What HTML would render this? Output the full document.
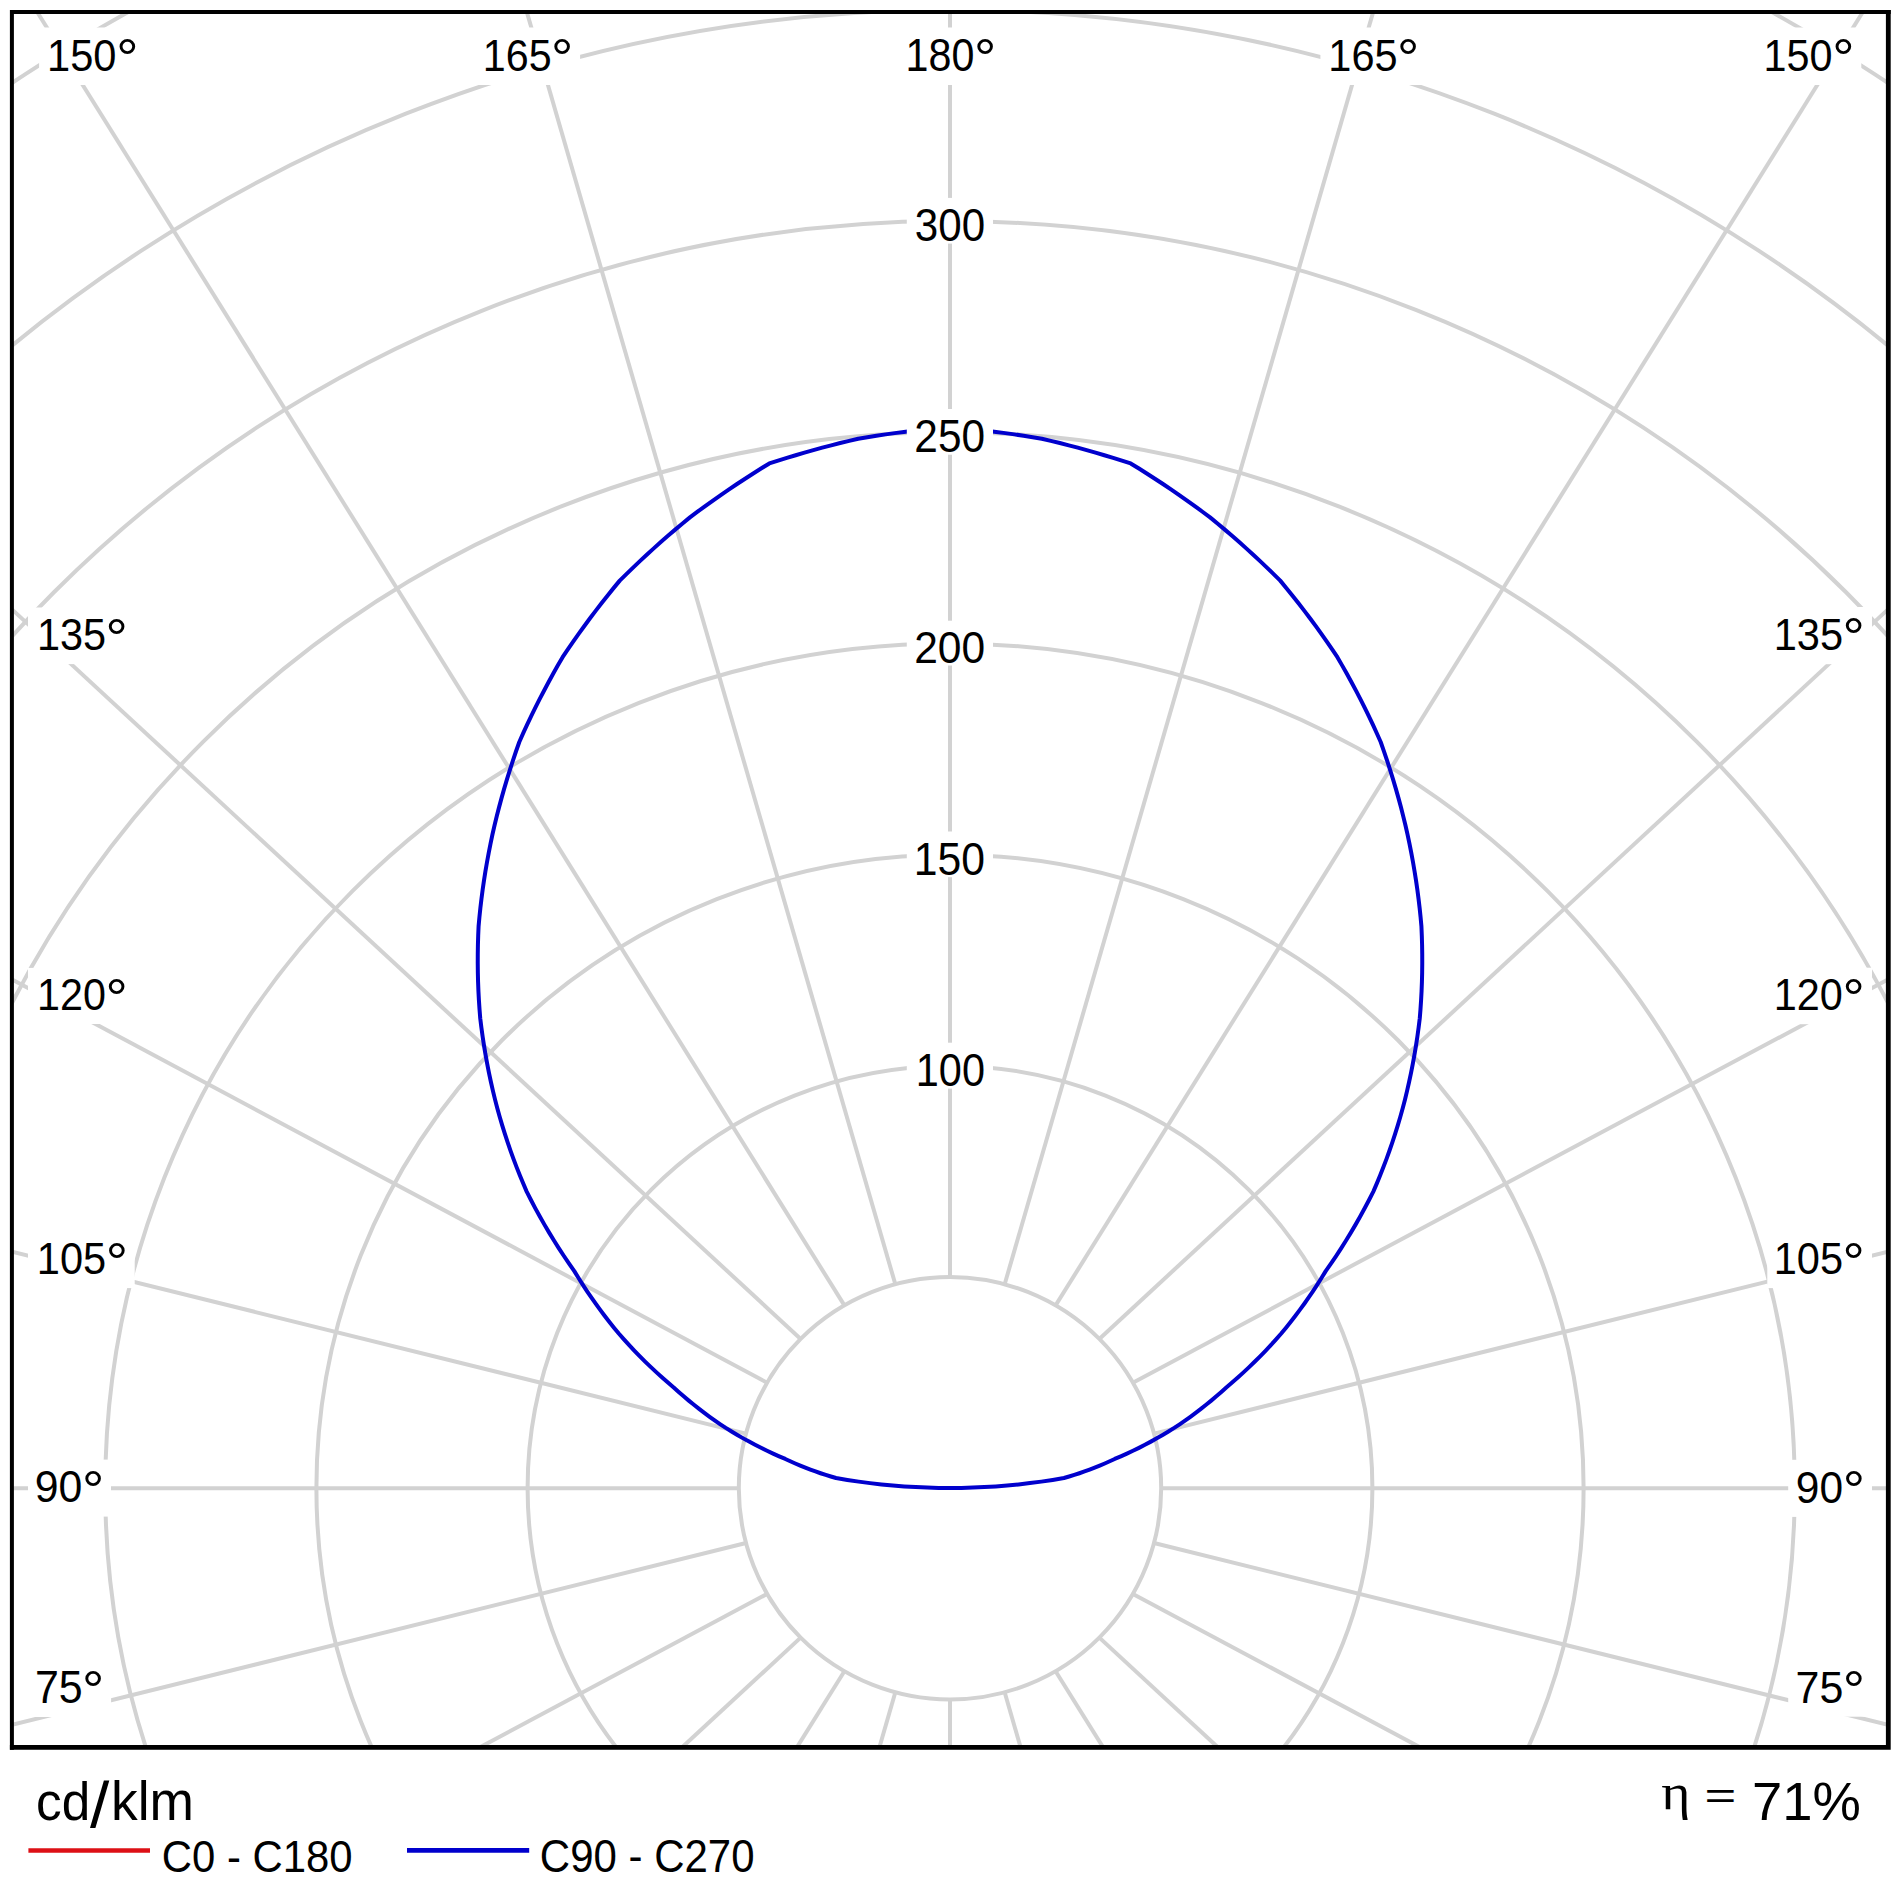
<!DOCTYPE html>
<html><head><meta charset="utf-8"><title>Polar luminous intensity diagram</title>
<style>html,body{margin:0;padding:0;background:#fff;width:1900px;height:1900px;overflow:hidden}svg{display:block}text{font-family:"Liberation Sans",sans-serif}</style>
</head><body><svg width="1900" height="1900" viewBox="0 0 1900 1900"><rect x="0" y="0" width="1900" height="1900" fill="#fff"/><defs><clipPath id="fc"><rect x="12" y="12" width="1876" height="1735"/></clipPath></defs><g clip-path="url(#fc)" stroke="#d2d2d2" stroke-width="4.0" fill="none"><circle cx="950.0" cy="1488.3" r="211.20"/><circle cx="950.0" cy="1488.3" r="422.40"/><circle cx="950.0" cy="1488.3" r="633.60"/><circle cx="950.0" cy="1488.3" r="844.80"/><circle cx="950.0" cy="1488.3" r="1056.00"/><circle cx="950.0" cy="1488.3" r="1267.20"/><circle cx="950.0" cy="1488.3" r="1478.40"/><circle cx="950.0" cy="1488.3" r="1689.60"/><circle cx="950.0" cy="1488.3" r="1900.80"/><line x1="1161.20" y1="1488.30" x2="1888.00" y2="1488.30"/><line x1="1154.00" y1="1433.64" x2="1888.00" y2="1251.70"/><line x1="1132.90" y1="1382.70" x2="1888.00" y2="979.41"/><line x1="1099.34" y1="1338.96" x2="1888.00" y2="609.39"/><line x1="1055.60" y1="1305.40" x2="1862.83" y2="12.00"/><line x1="1004.66" y1="1284.30" x2="1373.19" y2="12.00"/><line x1="950.00" y1="1277.10" x2="950.00" y2="12.00"/><line x1="895.34" y1="1284.30" x2="526.81" y2="12.00"/><line x1="844.40" y1="1305.40" x2="37.17" y2="12.00"/><line x1="800.66" y1="1338.96" x2="12.00" y2="609.39"/><line x1="767.10" y1="1382.70" x2="12.00" y2="979.41"/><line x1="746.00" y1="1433.64" x2="12.00" y2="1251.70"/><line x1="738.80" y1="1488.30" x2="12.00" y2="1488.30"/><line x1="746.00" y1="1542.96" x2="12.00" y2="1724.90"/><line x1="767.10" y1="1593.90" x2="480.44" y2="1747.00"/><line x1="800.66" y1="1637.64" x2="682.44" y2="1747.00"/><line x1="844.40" y1="1671.20" x2="797.09" y2="1747.00"/><line x1="895.34" y1="1692.30" x2="879.49" y2="1747.00"/><line x1="950.00" y1="1699.50" x2="950.00" y2="1747.00"/><line x1="1004.66" y1="1692.30" x2="1020.51" y2="1747.00"/><line x1="1055.60" y1="1671.20" x2="1102.91" y2="1747.00"/><line x1="1099.34" y1="1637.64" x2="1217.56" y2="1747.00"/><line x1="1132.90" y1="1593.90" x2="1419.56" y2="1747.00"/><line x1="1154.00" y1="1542.96" x2="1888.00" y2="1724.90"/></g><path d="M950.00,427.13 L940.75,427.93 L931.51,428.80 L922.29,429.76 L913.08,430.80 L903.89,431.92 L894.72,433.12 L885.56,434.39 L876.42,435.75 L867.30,437.19 L858.20,438.70 L849.17,440.83 L840.17,443.04 L831.20,445.32 L822.26,447.68 L813.36,450.12 L804.49,452.63 L795.65,455.22 L786.85,457.88 L778.08,460.62 L769.34,463.43 L761.05,468.54 L752.84,473.72 L744.71,478.96 L736.65,484.27 L728.67,489.64 L720.76,495.07 L712.94,500.56 L705.19,506.12 L697.52,511.73 L689.93,517.41 L682.52,523.49 L675.19,529.64 L667.96,535.83 L660.80,542.08 L653.74,548.38 L646.76,554.74 L639.88,561.14 L633.08,567.59 L626.37,574.09 L619.75,580.64 L613.55,588.14 L607.47,595.67 L601.49,603.25 L595.61,610.86 L589.84,618.51 L584.18,626.19 L578.63,633.90 L573.18,641.64 L567.83,649.41 L562.60,657.21 L557.74,665.62 L553.00,674.04 L548.38,682.48 L543.88,690.94 L539.49,699.42 L535.22,707.91 L531.06,716.41 L527.02,724.93 L523.10,733.46 L519.30,742.00 L516.04,751.28 L512.90,760.55 L509.90,769.82 L507.02,779.09 L504.27,788.35 L501.65,797.61 L499.16,806.86 L496.80,816.10 L494.56,825.32 L492.44,834.54 L490.49,843.80 L488.67,853.04 L486.98,862.26 L485.41,871.46 L483.96,880.64 L482.64,889.81 L481.44,898.94 L480.37,908.05 L479.42,917.14 L478.59,926.20 L478.19,935.58 L477.91,944.93 L477.77,954.24 L477.75,963.51 L477.85,972.74 L478.08,981.93 L478.43,991.07 L478.91,1000.17 L479.51,1009.22 L480.23,1018.23 L481.38,1027.48 L482.65,1036.68 L484.05,1045.83 L485.57,1054.91 L487.21,1063.93 L488.97,1072.89 L490.86,1081.79 L492.87,1090.62 L494.99,1099.39 L497.23,1108.08 L499.67,1116.77 L502.22,1125.39 L504.88,1133.94 L507.66,1142.41 L510.56,1150.80 L513.56,1159.12 L516.68,1167.36 L519.91,1175.52 L523.25,1183.60 L526.69,1191.60 L530.96,1200.00 L535.34,1208.31 L539.83,1216.51 L544.43,1224.62 L549.15,1232.63 L553.97,1240.53 L558.90,1248.33 L563.93,1256.03 L569.07,1263.61 L574.31,1271.10 L578.38,1277.75 L582.54,1284.31 L586.78,1290.79 L591.11,1297.17 L595.52,1303.47 L600.01,1309.67 L604.58,1315.78 L609.23,1321.80 L613.97,1327.72 L618.77,1333.55 L623.94,1339.41 L629.18,1345.16 L634.50,1350.82 L639.89,1356.37 L645.36,1361.81 L650.89,1367.15 L656.50,1372.39 L662.17,1377.51 L667.91,1382.53 L673.71,1387.44 L678.68,1391.92 L683.70,1396.31 L688.78,1400.60 L693.92,1404.79 L699.11,1408.89 L704.34,1412.90 L709.63,1416.80 L714.97,1420.61 L720.36,1424.31 L725.79,1427.92 L731.55,1431.51 L737.37,1434.98 L743.22,1438.36 L749.12,1441.62 L755.06,1444.78 L761.03,1447.83 L767.05,1450.78 L773.10,1453.61 L779.19,1456.34 L785.31,1458.96 L790.27,1461.27 L795.26,1463.49 L800.28,1465.62 L805.32,1467.67 L810.39,1469.62 L815.48,1471.48 L820.59,1473.26 L825.72,1474.94 L830.87,1476.53 L836.04,1478.03 L847.36,1479.92 L858.70,1481.62 L870.07,1483.11 L881.45,1484.41 L892.85,1485.50 L904.27,1486.40 L915.69,1487.10 L927.12,1487.60 L938.56,1487.90 L950.00,1488.00 L961.44,1487.90 L972.88,1487.60 L984.31,1487.10 L995.73,1486.40 L1007.15,1485.50 L1018.55,1484.41 L1029.93,1483.11 L1041.30,1481.62 L1052.64,1479.92 L1063.96,1478.03 L1069.13,1476.53 L1074.28,1474.94 L1079.41,1473.26 L1084.52,1471.48 L1089.61,1469.62 L1094.68,1467.67 L1099.72,1465.62 L1104.74,1463.49 L1109.73,1461.27 L1114.69,1458.96 L1120.81,1456.34 L1126.90,1453.61 L1132.95,1450.78 L1138.97,1447.83 L1144.94,1444.78 L1150.88,1441.62 L1156.78,1438.36 L1162.63,1434.98 L1168.45,1431.51 L1174.21,1427.92 L1179.64,1424.31 L1185.03,1420.61 L1190.37,1416.80 L1195.66,1412.90 L1200.89,1408.89 L1206.08,1404.79 L1211.22,1400.60 L1216.30,1396.31 L1221.32,1391.92 L1226.29,1387.44 L1232.09,1382.53 L1237.83,1377.51 L1243.50,1372.39 L1249.11,1367.15 L1254.64,1361.81 L1260.11,1356.37 L1265.50,1350.82 L1270.82,1345.16 L1276.06,1339.41 L1281.23,1333.55 L1286.03,1327.72 L1290.77,1321.80 L1295.42,1315.78 L1299.99,1309.67 L1304.48,1303.47 L1308.89,1297.17 L1313.22,1290.79 L1317.46,1284.31 L1321.62,1277.75 L1325.69,1271.10 L1330.93,1263.61 L1336.07,1256.03 L1341.10,1248.33 L1346.03,1240.53 L1350.85,1232.63 L1355.57,1224.62 L1360.17,1216.51 L1364.66,1208.31 L1369.04,1200.00 L1373.31,1191.60 L1376.75,1183.60 L1380.09,1175.52 L1383.32,1167.36 L1386.44,1159.12 L1389.44,1150.80 L1392.34,1142.41 L1395.12,1133.94 L1397.78,1125.39 L1400.33,1116.77 L1402.77,1108.08 L1405.01,1099.39 L1407.13,1090.62 L1409.14,1081.79 L1411.03,1072.89 L1412.79,1063.93 L1414.43,1054.91 L1415.95,1045.83 L1417.35,1036.68 L1418.62,1027.48 L1419.77,1018.23 L1420.49,1009.22 L1421.09,1000.17 L1421.57,991.07 L1421.92,981.93 L1422.15,972.74 L1422.25,963.51 L1422.23,954.24 L1422.09,944.93 L1421.81,935.58 L1421.41,926.20 L1420.58,917.14 L1419.63,908.05 L1418.56,898.94 L1417.36,889.81 L1416.04,880.64 L1414.59,871.46 L1413.02,862.26 L1411.33,853.04 L1409.51,843.80 L1407.56,834.54 L1405.44,825.32 L1403.20,816.10 L1400.84,806.86 L1398.35,797.61 L1395.73,788.35 L1392.98,779.09 L1390.10,769.82 L1387.10,760.55 L1383.96,751.28 L1380.70,742.00 L1376.90,733.46 L1372.98,724.93 L1368.94,716.41 L1364.78,707.91 L1360.51,699.42 L1356.12,690.94 L1351.62,682.48 L1347.00,674.04 L1342.26,665.62 L1337.40,657.21 L1332.17,649.41 L1326.82,641.64 L1321.37,633.90 L1315.82,626.19 L1310.16,618.51 L1304.39,610.86 L1298.51,603.25 L1292.53,595.67 L1286.45,588.14 L1280.25,580.64 L1273.63,574.09 L1266.92,567.59 L1260.12,561.14 L1253.24,554.74 L1246.26,548.38 L1239.20,542.08 L1232.04,535.83 L1224.81,529.64 L1217.48,523.49 L1210.07,517.41 L1202.48,511.73 L1194.81,506.12 L1187.06,500.56 L1179.24,495.07 L1171.33,489.64 L1163.35,484.27 L1155.29,478.96 L1147.16,473.72 L1138.95,468.54 L1130.66,463.43 L1121.92,460.62 L1113.15,457.88 L1104.35,455.22 L1095.51,452.63 L1086.64,450.12 L1077.74,447.68 L1068.80,445.32 L1059.83,443.04 L1050.83,440.83 L1041.80,438.70 L1032.70,437.19 L1023.58,435.75 L1014.44,434.39 L1005.28,433.12 L996.11,431.92 L986.92,430.80 L977.71,429.76 L968.49,428.80 L959.25,427.93 L950.00,427.13" fill="none" stroke="#0000cd" stroke-width="4" stroke-linejoin="round"/><g font-family="Liberation Sans, sans-serif"><rect x="906.8" y="1042.7" width="86.2" height="45.9" fill="#fff"/><text transform="translate(915.84,1086.08) scale(0.9416,1.0368)" font-size="44" fill="#000">100</text><rect x="906.8" y="831.5" width="86.2" height="45.7" fill="#fff"/><text transform="translate(913.84,874.68) scale(0.9708,1.0304)" font-size="44" fill="#000">150</text><rect x="906.8" y="620.7" width="86.2" height="44.8" fill="#fff"/><text transform="translate(914.22,663.00) scale(0.9669,1.0016)" font-size="44" fill="#000">200</text><rect x="906.8" y="409.0" width="86.2" height="45.7" fill="#fff"/><text transform="translate(914.33,452.18) scale(0.9640,1.0304)" font-size="44" fill="#000">250</text><rect x="906.8" y="197.9" width="86.2" height="45.7" fill="#fff"/><text transform="translate(914.83,241.08) scale(0.9571,1.0304)" font-size="44" fill="#000">300</text><rect x="39.1" y="27.5" width="106.1" height="57.5" fill="#fff"/><text transform="translate(47.03,70.89) scale(0.9460,1.0208)" font-size="44" fill="#000">150</text><text transform="translate(116.22,77.00) scale(1.2653,1.2000)" font-size="44" fill="#000">°</text><rect x="474.8" y="27.5" width="105.3" height="57.5" fill="#fff"/><text transform="translate(482.75,70.89) scale(0.9377,1.0240)" font-size="44" fill="#000">165</text><text transform="translate(551.12,76.90) scale(1.2653,1.2000)" font-size="44" fill="#000">°</text><rect x="897.6" y="27.5" width="105.5" height="57.5" fill="#fff"/><text transform="translate(905.55,70.88) scale(0.9372,1.0336)" font-size="44" fill="#000">180</text><text transform="translate(974.12,76.60) scale(1.2653,1.2000)" font-size="44" fill="#000">°</text><rect x="1320.4" y="27.5" width="105.7" height="57.5" fill="#fff"/><text transform="translate(1328.33,70.89) scale(0.9436,1.0240)" font-size="44" fill="#000">165</text><text transform="translate(1397.12,76.90) scale(1.2653,1.2000)" font-size="44" fill="#000">°</text><rect x="1755.6" y="27.5" width="105.7" height="57.5" fill="#fff"/><text transform="translate(1763.54,70.89) scale(0.9401,1.0240)" font-size="44" fill="#000">150</text><text transform="translate(1832.32,76.90) scale(1.2653,1.2000)" font-size="44" fill="#000">°</text><rect x="28.0" y="607.5" width="106.6" height="56.6" fill="#fff"/><text transform="translate(36.94,650.00) scale(0.9421,1.0080)" font-size="44" fill="#000">135</text><text transform="translate(105.62,656.50) scale(1.2653,1.2000)" font-size="44" fill="#000">°</text><rect x="28.0" y="967.9" width="106.6" height="56.1" fill="#fff"/><text transform="translate(36.95,1009.90) scale(0.9387,0.9920)" font-size="44" fill="#000">120</text><text transform="translate(105.62,1016.90) scale(1.2653,1.2000)" font-size="44" fill="#000">°</text><rect x="28.0" y="1231.7" width="106.7" height="56.4" fill="#fff"/><text transform="translate(36.83,1274.00) scale(0.9451,1.0016)" font-size="44" fill="#000">105</text><text transform="translate(105.72,1280.70) scale(1.2653,1.2000)" font-size="44" fill="#000">°</text><rect x="28.0" y="1459.6" width="83.0" height="57.0" fill="#fff"/><text transform="translate(34.76,1502.49) scale(0.9724,1.0208)" font-size="44" fill="#000">90</text><text transform="translate(82.02,1508.60) scale(1.2653,1.2000)" font-size="44" fill="#000">°</text><rect x="28.0" y="1659.9" width="83.1" height="57.1" fill="#fff"/><text transform="translate(34.90,1702.88) scale(0.9765,1.0407)" font-size="44" fill="#000">75</text><text transform="translate(82.12,1708.90) scale(1.2653,1.2000)" font-size="44" fill="#000">°</text><rect x="1767.3" y="607.0" width="104.7" height="57.2" fill="#fff"/><text transform="translate(1773.73,650.09) scale(0.9451,1.0272)" font-size="44" fill="#000">135</text><text transform="translate(1842.62,656.00) scale(1.2653,1.2000)" font-size="44" fill="#000">°</text><rect x="1767.3" y="967.7" width="104.7" height="56.5" fill="#fff"/><text transform="translate(1773.74,1010.10) scale(0.9416,1.0048)" font-size="44" fill="#000">120</text><text transform="translate(1842.62,1016.70) scale(1.2653,1.2000)" font-size="44" fill="#000">°</text><rect x="1767.3" y="1231.7" width="104.7" height="56.4" fill="#fff"/><text transform="translate(1773.73,1274.00) scale(0.9451,1.0016)" font-size="44" fill="#000">105</text><text transform="translate(1842.62,1280.70) scale(1.2653,1.2000)" font-size="44" fill="#000">°</text><rect x="1788.2" y="1459.8" width="83.8" height="57.1" fill="#fff"/><text transform="translate(1795.77,1502.79) scale(0.9657,1.0240)" font-size="44" fill="#000">90</text><text transform="translate(1842.72,1508.80) scale(1.2653,1.2000)" font-size="44" fill="#000">°</text><rect x="1788.2" y="1660.3" width="83.8" height="56.4" fill="#fff"/><text transform="translate(1795.50,1702.59) scale(0.9765,1.0179)" font-size="44" fill="#000">75</text><text transform="translate(1842.72,1709.30) scale(1.2653,1.2000)" font-size="44" fill="#000">°</text></g><path d="M11.9,9.9 V1749.7 M9.9,11.9 H1890.7" fill="none" stroke="#000" stroke-width="4"/><path d="M1888.3,9.9 V1749.7 M9.9,1747.3 H1890.7" fill="none" stroke="#000" stroke-width="4.8"/><g font-family="Liberation Sans, sans-serif"><text transform="translate(36.07,1819.78) scale(1.1663,1.2372)" font-size="44" fill="#000">cd</text><text transform="translate(111.06,1820.00) scale(1.2128,1.2441)" font-size="44" fill="#000">klm</text><polygon points="90.0,1827.9 95.4,1827.9 109.3,1780.5 103.9,1780.5" fill="#000"/><line x1="28.4" y1="1850.5" x2="150" y2="1850.5" stroke="#dd1016" stroke-width="4.4"/><text transform="translate(161.76,1871.79) scale(0.9517,1.0272)" font-size="44" fill="#000">C0 - C180</text><line x1="407" y1="1850.4" x2="529.2" y2="1850.4" stroke="#0000cd" stroke-width="4.6"/><text transform="translate(539.85,1871.78) scale(0.9543,1.0304)" font-size="44" fill="#000">C90 - C270</text><text style="font-family:&quot;Liberation Serif&quot;,serif" transform="translate(1661.25,1809.24) scale(1.2700,1.1633)" font-size="44" fill="#000">η</text><text transform="translate(1704.52,1807.82) scale(1.2376,0.8429)" font-size="44" fill="#000">=</text><text transform="translate(1752.02,1819.69) scale(1.2368,1.2293)" font-size="44" fill="#000">71%</text></g></svg></body></html>
